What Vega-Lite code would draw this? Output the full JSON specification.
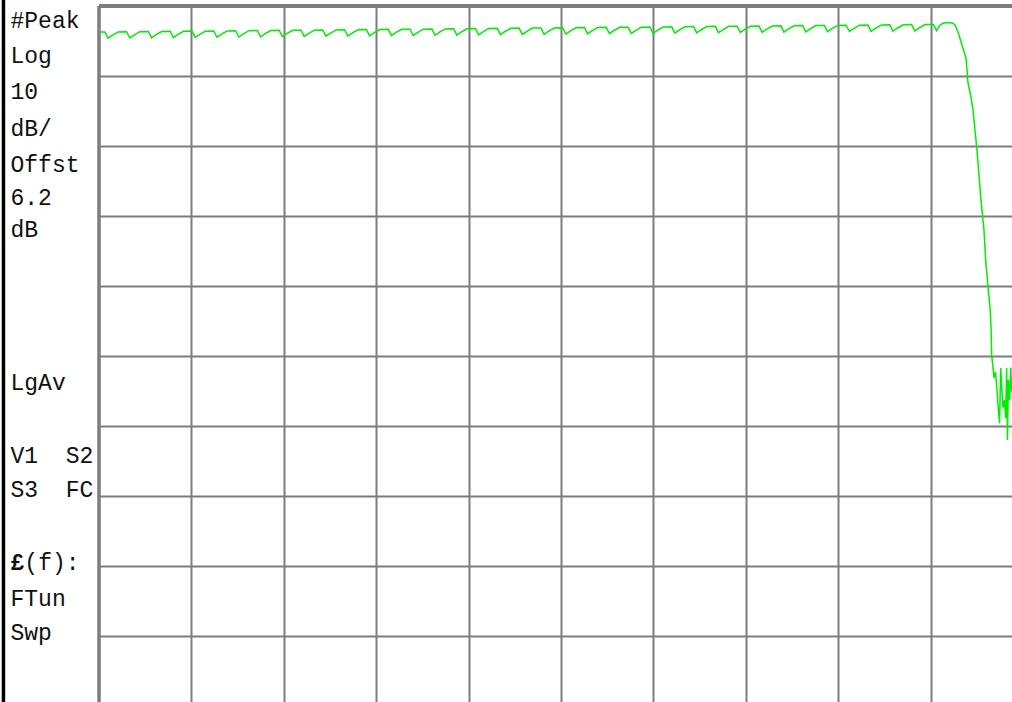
{
  "$schema": "https://vega.github.io/schema/vega-lite/v6.json",
  "width": 913,
  "height": 696,
  "autosize": {"type": "none"},
  "padding": {"left": 99, "top": 6, "right": 0, "bottom": 0},
  "background": "white",
  "config": {"view": {"stroke": null}},
  "datasets": {
    "trace": [
      {"x":0,"dB":-3.72},
      {"x":0.062,"dB":-3.70},{"x":0.097,"dB":-4.60},{"x":0.147,"dB":-4.15},{"x":0.207,"dB":-3.70},
      {"x":0.298,"dB":-3.67},{"x":0.333,"dB":-4.57},{"x":0.383,"dB":-4.12},{"x":0.443,"dB":-3.67},
      {"x":0.534,"dB":-3.64},{"x":0.569,"dB":-4.54},{"x":0.619,"dB":-4.09},{"x":0.679,"dB":-3.64},
      {"x":0.770,"dB":-3.61},{"x":0.805,"dB":-4.51},{"x":0.855,"dB":-4.06},{"x":0.915,"dB":-3.61},
      {"x":1.006,"dB":-3.59},{"x":1.041,"dB":-4.49},{"x":1.091,"dB":-4.04},{"x":1.151,"dB":-3.59},
      {"x":1.242,"dB":-3.56},{"x":1.277,"dB":-4.46},{"x":1.327,"dB":-4.01},{"x":1.387,"dB":-3.56},
      {"x":1.478,"dB":-3.53},{"x":1.513,"dB":-4.43},{"x":1.563,"dB":-3.98},{"x":1.623,"dB":-3.53},
      {"x":1.714,"dB":-3.50},{"x":1.749,"dB":-4.40},{"x":1.799,"dB":-3.95},{"x":1.859,"dB":-3.50},
      {"x":1.950,"dB":-3.47},{"x":1.985,"dB":-4.37},{"x":2.035,"dB":-3.92},{"x":2.095,"dB":-3.47},
      {"x":2.186,"dB":-3.45},{"x":2.221,"dB":-4.35},{"x":2.271,"dB":-3.90},{"x":2.331,"dB":-3.45},
      {"x":2.422,"dB":-3.42},{"x":2.457,"dB":-4.32},{"x":2.507,"dB":-3.87},{"x":2.567,"dB":-3.42},
      {"x":2.658,"dB":-3.39},{"x":2.693,"dB":-4.29},{"x":2.743,"dB":-3.84},{"x":2.803,"dB":-3.39},
      {"x":2.894,"dB":-3.36},{"x":2.929,"dB":-4.26},{"x":2.979,"dB":-3.81},{"x":3.039,"dB":-3.36},
      {"x":3.130,"dB":-3.33},{"x":3.165,"dB":-4.23},{"x":3.215,"dB":-3.78},{"x":3.275,"dB":-3.33},
      {"x":3.366,"dB":-3.31},{"x":3.401,"dB":-4.21},{"x":3.451,"dB":-3.76},{"x":3.511,"dB":-3.31},
      {"x":3.602,"dB":-3.28},{"x":3.637,"dB":-4.18},{"x":3.687,"dB":-3.73},{"x":3.747,"dB":-3.28},
      {"x":3.838,"dB":-3.25},{"x":3.873,"dB":-4.15},{"x":3.923,"dB":-3.70},{"x":3.983,"dB":-3.25},
      {"x":4.074,"dB":-3.22},{"x":4.109,"dB":-4.12},{"x":4.159,"dB":-3.67},{"x":4.219,"dB":-3.22},
      {"x":4.310,"dB":-3.19},{"x":4.345,"dB":-4.09},{"x":4.395,"dB":-3.64},{"x":4.455,"dB":-3.19},
      {"x":4.546,"dB":-3.16},{"x":4.581,"dB":-4.06},{"x":4.631,"dB":-3.61},{"x":4.691,"dB":-3.16},
      {"x":4.782,"dB":-3.14},{"x":4.817,"dB":-4.04},{"x":4.867,"dB":-3.59},{"x":4.927,"dB":-3.14},
      {"x":5.018,"dB":-3.11},{"x":5.053,"dB":-4.01},{"x":5.103,"dB":-3.56},{"x":5.163,"dB":-3.11},
      {"x":5.254,"dB":-3.08},{"x":5.289,"dB":-3.98},{"x":5.339,"dB":-3.53},{"x":5.399,"dB":-3.08},
      {"x":5.490,"dB":-3.05},{"x":5.525,"dB":-3.95},{"x":5.575,"dB":-3.50},{"x":5.635,"dB":-3.05},
      {"x":5.726,"dB":-3.02},{"x":5.761,"dB":-3.92},{"x":5.811,"dB":-3.47},{"x":5.871,"dB":-3.02},
      {"x":5.962,"dB":-3.00},{"x":5.997,"dB":-3.90},{"x":6.047,"dB":-3.45},{"x":6.107,"dB":-3.00},
      {"x":6.198,"dB":-2.97},{"x":6.233,"dB":-3.87},{"x":6.283,"dB":-3.42},{"x":6.343,"dB":-2.97},
      {"x":6.434,"dB":-2.94},{"x":6.469,"dB":-3.84},{"x":6.519,"dB":-3.39},{"x":6.579,"dB":-2.94},
      {"x":6.670,"dB":-2.91},{"x":6.705,"dB":-3.81},{"x":6.755,"dB":-3.36},{"x":6.815,"dB":-2.91},
      {"x":6.906,"dB":-2.88},{"x":6.941,"dB":-3.78},{"x":6.991,"dB":-3.33},{"x":7.051,"dB":-2.88},
      {"x":7.142,"dB":-2.86},{"x":7.177,"dB":-3.76},{"x":7.227,"dB":-3.31},{"x":7.287,"dB":-2.86},
      {"x":7.378,"dB":-2.83},{"x":7.413,"dB":-3.73},{"x":7.463,"dB":-3.28},{"x":7.523,"dB":-2.83},
      {"x":7.614,"dB":-2.80},{"x":7.649,"dB":-3.70},{"x":7.699,"dB":-3.25},{"x":7.759,"dB":-2.80},
      {"x":7.850,"dB":-2.77},{"x":7.885,"dB":-3.67},{"x":7.935,"dB":-3.22},{"x":7.995,"dB":-2.77},
      {"x":8.086,"dB":-2.74},{"x":8.121,"dB":-3.64},{"x":8.171,"dB":-3.19},{"x":8.231,"dB":-2.74},
      {"x":8.322,"dB":-2.72},{"x":8.357,"dB":-3.62},{"x":8.407,"dB":-3.17},{"x":8.467,"dB":-2.72},
      {"x":8.558,"dB":-2.69},{"x":8.593,"dB":-3.59},{"x":8.643,"dB":-3.14},{"x":8.703,"dB":-2.69},
      {"x":8.794,"dB":-2.66},{"x":8.829,"dB":-3.56},{"x":8.879,"dB":-3.11},{"x":8.939,"dB":-2.66},
      {"x":9.030,"dB":-2.63},{"x":9.065,"dB":-3.53},
      {"x":9.102,"dB":-2.71},{"x":9.134,"dB":-2.47},{"x":9.170,"dB":-2.40},{"x":9.210,"dB":-2.39},
      {"x":9.240,"dB":-2.45},{"x":9.264,"dB":-2.71},{"x":9.297,"dB":-3.71},{"x":9.340,"dB":-5.57},
      {"x":9.383,"dB":-7.43},{"x":9.405,"dB":-11.0},{"x":9.437,"dB":-13.0},{"x":9.459,"dB":-14.86},
      {"x":9.502,"dB":-20.57},{"x":9.545,"dB":-27.7},{"x":9.578,"dB":-32.0},{"x":9.596,"dB":-36.3},
      {"x":9.621,"dB":-40.1},{"x":9.643,"dB":-43.0},{"x":9.654,"dB":-45.9},{"x":9.661,"dB":-49.9},
      {"x":9.675,"dB":-51.6},{"x":9.686,"dB":-53.1},{"x":9.702,"dB":-52.3},{"x":9.719,"dB":-54.9},
      {"x":9.729,"dB":-57.0},{"x":9.746,"dB":-59.6},{"x":9.759,"dB":-51.7},{"x":9.773,"dB":-55.3},
      {"x":9.784,"dB":-57.4},{"x":9.800,"dB":-56.3},{"x":9.813,"dB":-58.9},{"x":9.823,"dB":-51.7},
      {"x":9.832,"dB":-62.0},{"x":9.841,"dB":-53.4},{"x":9.854,"dB":-56.3},{"x":9.867,"dB":-51.7},
      {"x":9.876,"dB":-55.1},{"x":9.892,"dB":-52.7},{"x":9.92,"dB":-56.0},{"x":9.95,"dB":-53.0},
      {"x":9.98,"dB":-57.0},{"x":10.0,"dB":-54.0}
    ],
    "labels": [
      {"label":"#Peak","dB":-3.14},
      {"label":"Log","dB":-8.14},
      {"label":"10","dB":-13.29},
      {"label":"dB/","dB":-18.57},
      {"label":"Offst","dB":-23.71},
      {"label":"6.2","dB":-28.43},
      {"label":"dB","dB":-33.0},
      {"label":"LgAv","dB":-54.86},
      {"label":"V1\u00a0\u00a0S2","dB":-65.29},
      {"label":"S3\u00a0\u00a0FC","dB":-70.14},
      {"label":"FTun","dB":-85.71},
      {"label":"Swp","dB":-90.57}
    ],
    "boldLabels": [
      {"label":"£","dB":-80.57}
    ],
    "afterBold": [
      {"label":"(f):","dB":-80.57}
    ]
  },
  "layer": [
    {
      "data": {"values": [{}]},
      "mark": {"type": "rule", "color": "black", "strokeWidth": 3.5},
      "encoding": {
        "x": {"datum": -1.034, "type": "quantitative", "scale": {"domain": [0, 9.881], "nice": false, "zero": false},
              "axis": {"orient": "top", "domain": false, "ticks": false, "labels": false, "title": null, "grid": true,
                       "values": [1,2,3,4,5,6,7,8,9], "gridColor": "#7d7d7d", "gridWidth": 2, "gridOpacity": 1}},
        "y": {"datum": 0.86, "type": "quantitative", "scale": {"domain": [-99.43, 0], "nice": false, "zero": false},
              "axis": {"domain": false, "ticks": false, "labels": false, "title": null, "grid": true,
                       "values": [-10,-20,-30,-40,-50,-60,-70,-80,-90], "gridColor": "#7d7d7d", "gridWidth": 2, "gridOpacity": 1}},
        "y2": {"datum": -99.43}
      }
    },
    {
      "data": {"values": [{}]},
      "mark": {"type": "rule", "color": "#7d7d7d", "strokeWidth": 3.5},
      "encoding": {"x": {"datum": 0, "type": "quantitative"}}
    },
    {
      "data": {"values": [{}]},
      "mark": {"type": "rule", "color": "#7d7d7d", "strokeWidth": 4},
      "encoding": {"y": {"datum": 0, "type": "quantitative"}}
    },
    {
      "data": {"name": "trace"},
      "mark": {"type": "line", "color": "#00ee00", "strokeWidth": 1.5, "interpolate": "linear"},
      "encoding": {
        "x": {"field": "x", "type": "quantitative"},
        "y": {"field": "dB", "type": "quantitative"}
      }
    },
    {
      "data": {"name": "labels"},
      "mark": {"type": "text", "align": "left", "baseline": "alphabetic", "font": "Liberation Mono", "fontSize": 23, "color": "#111111"},
      "encoding": {
        "x": {"datum": -0.958, "type": "quantitative"},
        "y": {"field": "dB", "type": "quantitative"},
        "text": {"field": "label"}
      }
    },
    {
      "data": {"name": "boldLabels"},
      "mark": {"type": "text", "align": "left", "baseline": "alphabetic", "font": "Liberation Mono", "fontSize": 23, "fontWeight": "bold", "color": "#111111"},
      "encoding": {
        "x": {"datum": -0.958, "type": "quantitative"},
        "y": {"field": "dB", "type": "quantitative"},
        "text": {"field": "label"}
      }
    },
    {
      "data": {"name": "afterBold"},
      "mark": {"type": "text", "align": "left", "baseline": "alphabetic", "font": "Liberation Mono", "fontSize": 23, "color": "#111111"},
      "encoding": {
        "x": {"datum": -0.808, "type": "quantitative"},
        "y": {"field": "dB", "type": "quantitative"},
        "text": {"field": "label"}
      }
    }
  ]
}
